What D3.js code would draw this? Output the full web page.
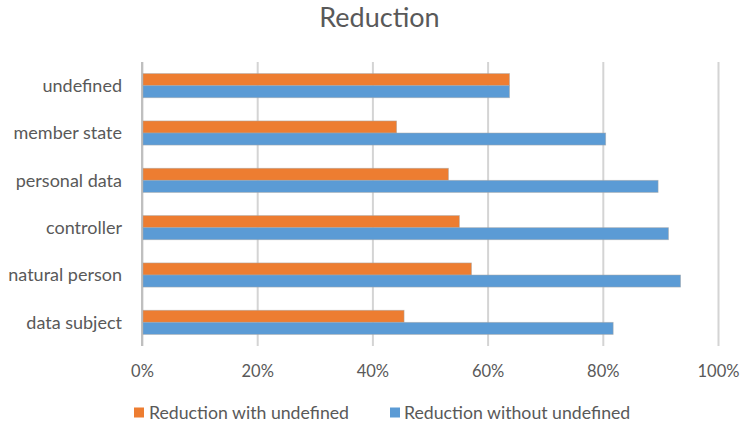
<!DOCTYPE html>
<html>
<head>
<meta charset="utf-8">
<script src="https://cdn.jsdelivr.net/npm/d3@7/dist/d3.min.js"></script>
<style>
  html, body { margin: 0; padding: 0; background: #ffffff; }
  svg { display: block; }
  text { font-family: Lato, "Open Sans", sans-serif; fill: #595959; }
</style>
</head>
<body>
<svg id="chart" width="741" height="426"></svg>
<script>
const categories = ["undefined", "member state", "personal data", "controller", "natural person", "data subject"];
const seriesNames = ["Reduction with undefined", "Reduction without undefined"];
const withUndefined = [0.638, 0.442, 0.532, 0.551, 0.572, 0.455];
const withoutUndefined = [0.638, 0.805, 0.896, 0.914, 0.935, 0.818];
const tickValues = [0, 0.2, 0.4, 0.6, 0.8, 1.0];
const colors = ["#ED7D31", "#5B9BD5"];
const title = "Reduction";

const svg = d3.select("#chart");
const W = 741, H = 426;
const plot = { left: 142, right: 718, top: 62, bottom: 346 };

svg.append("rect").attr("width", W).attr("height", H).attr("fill", "#ffffff");

const x = d3.scaleLinear().domain([0, 1]).range([plot.left, plot.right]);
const y0 = d3.scaleBand().domain(categories).range([plot.top, plot.bottom])
  .paddingInner(0.49).paddingOuter(0.245);
const y1 = d3.scaleBand().domain(seriesNames).range([0, y0.bandwidth()]);

// gridlines
const xAxis = d3.axisBottom(x).tickValues(tickValues).tickSize(-(plot.bottom - plot.top))
  .tickFormat(d3.format(".0%"));
const gx = svg.append("g").attr("transform", `translate(0,${plot.bottom})`).call(xAxis);
gx.select(".domain").remove();
gx.selectAll(".tick line").attr("stroke", "#d4d4d4").attr("stroke-width", 2);
gx.selectAll(".tick text").attr("y", 30.5).attr("dy", 0)
  .style("font-size", "16.5px").attr("fill", "#595959");

// vertical axis line at 0
svg.append("line").attr("x1", x(0)).attr("x2", x(0))
  .attr("y1", plot.top).attr("y2", plot.bottom)
  .attr("stroke", "#bfbfbf").attr("stroke-width", 2);

// bars
const rows = categories.map((c, i) => ({ cat: c, vals: [withUndefined[i], withoutUndefined[i]] }));
const groups = svg.append("g").selectAll("g").data(rows).join("g")
  .attr("transform", d => `translate(0,${y0(d.cat)})`);
groups.selectAll("rect").data(d => d.vals.map((v, j) => ({ v, s: seriesNames[j], j })))
  .join("rect")
  .attr("x", x(0) + 1)
  .attr("y", d => y1(d.s))
  .attr("width", d => x(d.v) - x(0) - 1)
  .attr("height", y1.bandwidth())
  .attr("fill", d => colors[d.j])
  .attr("stroke", "#a6a6a6").attr("stroke-opacity", 0.6).attr("stroke-width", 0.8);

// category axis labels
const yAxis = d3.axisLeft(y0).tickSize(0).tickPadding(0);
const gy = svg.append("g").attr("transform", `translate(122,0)`).call(yAxis);
gy.select(".domain").remove();
gy.selectAll(".tick text").attr("x", 0).attr("dy", "0.36em")
  .style("font-size", "18px").attr("fill", "#595959").attr("text-anchor", "end");

// title
svg.append("text").attr("x", 379.5).attr("y", 27).attr("text-anchor", "middle")
  .style("font-size", "27px").attr("fill", "#595959").text(title);

// legend
const legendPos = [{ sx: 134, tx: 149 }, { sx: 390, tx: 404 }];
const lg = svg.append("g").selectAll("g").data(seriesNames).join("g");
lg.append("rect").attr("x", (d, i) => legendPos[i].sx).attr("y", 407.5)
  .attr("width", 10).attr("height", 10).attr("fill", (d, i) => colors[i]);
lg.append("text").attr("x", (d, i) => legendPos[i].tx).attr("y", 418.5)
  .style("font-size", "17.7px").attr("fill", "#595959").text(d => d);
</script>
</body>
</html>
